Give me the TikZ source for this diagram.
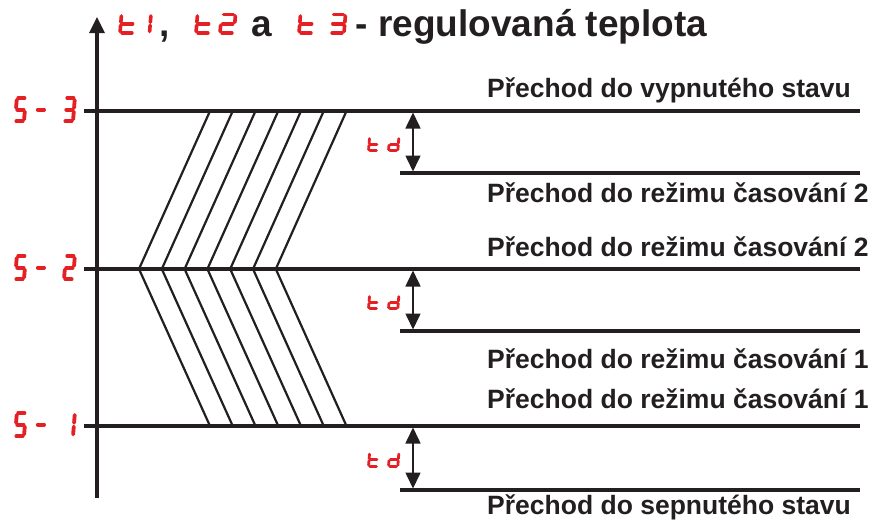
\documentclass[tikz,border=0pt]{standalone}
\usepackage{fontspec}
\setmainfont{Liberation Sans}
\usetikzlibrary{arrows.meta}
\definecolor{segred}{RGB}{228,32,36}
\definecolor{ink}{RGB}{35,31,32}

% segments of a seven-segment cell, in cell coordinates (0..1 wide, 0..1 high)
\newcommand\sevsega{\draw (0.15,1)--(0.85,1);}
\newcommand\sevsegb{\draw (1,0.92)--(1,0.58);}
\newcommand\sevsegc{\draw (1,0.42)--(1,0.08);}
\newcommand\sevsegd{\draw (0.15,0)--(0.85,0);}
\newcommand\sevsege{\draw (0,0.42)--(0,0.08);}
\newcommand\sevsegf{\draw (0,0.92)--(0,0.58);}
\newcommand\sevsegg{\draw (0.15,0.5)--(0.85,0.5);}

% #1 left, #2 bottom, #3 width, #4 height, #5 stroke, #6 segment list
\newcommand{\segchar}[6]{%
  \begin{scope}[shift={(#1,#2)}, x={(#3pt,0pt)}, y={({0.08*#4pt},{#4pt})},
                line width=#5pt, segred, line cap=round]
    \foreach \s in {#6}{\csname sevseg\s\endcsname}
  \end{scope}}

% the "td" marker beside each delay arrow, #1 = bottom of the characters
\newcommand{\tdmark}[1]{%
  \segchar{368.5}{#1}{9.3}{13.2}{2.8}{f,e,g,d}%
  \segchar{388.5}{#1}{9.3}{13.2}{2.8}{b,c,g,e,d}}

% the "S-n" level label, #1 = bottom, #2 = segments of the digit
\newcommand{\levelmark}[2]{%
  \segchar{15}{#1}{9.0}{23.2}{3.8}{a,f,g,c,d}%
  \segchar{35.5}{#1}{9.0}{23.2}{3.8}{g}%
  \segchar{64}{#1}{9.0}{23.2}{3.8}{#2}}

\begin{document}
\begin{tikzpicture}[x=1pt,y=-1pt,
  level/.style={ink, line width=3.3pt},
  hatch/.style={ink, line width=2.2pt, line join=miter},
  axis/.style={ink, line width=3.3pt, -{Triangle[width=15pt,length=16pt]}},
  tdarrow/.style={ink, line width=1.6pt,
    {Triangle[width=15pt,length=16pt]}-{Triangle[width=15pt,length=16pt]}},
  lbl/.style={anchor=base west, inner sep=0pt, ink,
    font=\bfseries\fontsize{26.5}{30}\selectfont},
  ttl/.style={anchor=base west, inner sep=0pt, ink,
    font=\bfseries\fontsize{37}{42}\selectfont}]
\useasboundingbox (0,0) rectangle (875,520);

% vertical temperature axis
\coordinate (axbot) at (97,498);
\coordinate (axtop) at (97,17);
\draw[axis] (axbot) -- (axtop);

% title
\segchar{120}{33}{14}{18.5}{3.6}{f,e,g,d}
\segchar{135.5}{33}{14}{18.5}{3.6}{b,c}
\node[ttl] (comma) at (159,36) {,};
\segchar{196}{33}{14}{18.5}{3.6}{f,e,g,d}
\segchar{220}{33}{14}{18.5}{3.6}{a,b,g,e,d}
\node[ttl] (conj) at (251.5,36) {a};
\segchar{299}{33}{14}{18.5}{3.6}{f,e,g,d}
\segchar{330}{33}{14}{18.5}{3.6}{a,b,g,c,d}
\node[ttl] (title) at (355.5,36) {- regulovaná teplota};

% switching levels
\foreach \n/\y in {3/111, 2/269, 1/426} {
  \coordinate (L\n) at (84,\y);
  \coordinate (R\n) at (860,\y);
}
\foreach \n/\y in {3/173, 2/331, 1/490} {
  \coordinate (D\n) at (400,\y);
  \coordinate (E\n) at (860,\y);
}
\draw[level] (L3) -- (R3);
\draw[level] (L2) -- (R2);
\draw[level] (L1) -- (R1);
\draw[level] (D3) -- (E3);
\draw[level] (D2) -- (E2);
\draw[level] (D1) -- (E1);

% level labels
\levelmark{121.25}{a,b,g,c,d}
\levelmark{279.25}{a,b,g,e,d}
\levelmark{436.25}{b,c}

% hatched band between the levels
\foreach \i in {0,...,6} {
  \draw[hatch] ({210+22.75*\i},111) -- ({139+22.8*\i},269) -- ({210+22.75*\i},426);
}

% delay arrows
\coordinate (ta3) at (413,112.5); \coordinate (tb3) at (413,171.5);
\coordinate (ta2) at (413,270.5); \coordinate (tb2) at (413,329.5);
\coordinate (ta1) at (413,427.5); \coordinate (tb1) at (413,488.5);
\draw[tdarrow] (ta3) -- (tb3);
\draw[tdarrow] (ta2) -- (tb2);
\draw[tdarrow] (ta1) -- (tb1);
\tdmark{150.75}
\tdmark{308.75}
\tdmark{466.25}

% transition texts
\node[lbl] (t1) at (487,97)  {Přechod do vypnutého stavu};
\node[lbl] (t2) at (487,202) {Přechod do režimu časování 2};
\node[lbl] (t3) at (487,256) {Přechod do režimu časování 2};
\node[lbl] (t4) at (487,368) {Přechod do režimu časování 1};
\node[lbl] (t5) at (487,408) {Přechod do režimu časování 1};
\node[lbl] (t6) at (487,514) {Přechod do sepnutého stavu};
\end{tikzpicture}
\end{document}
